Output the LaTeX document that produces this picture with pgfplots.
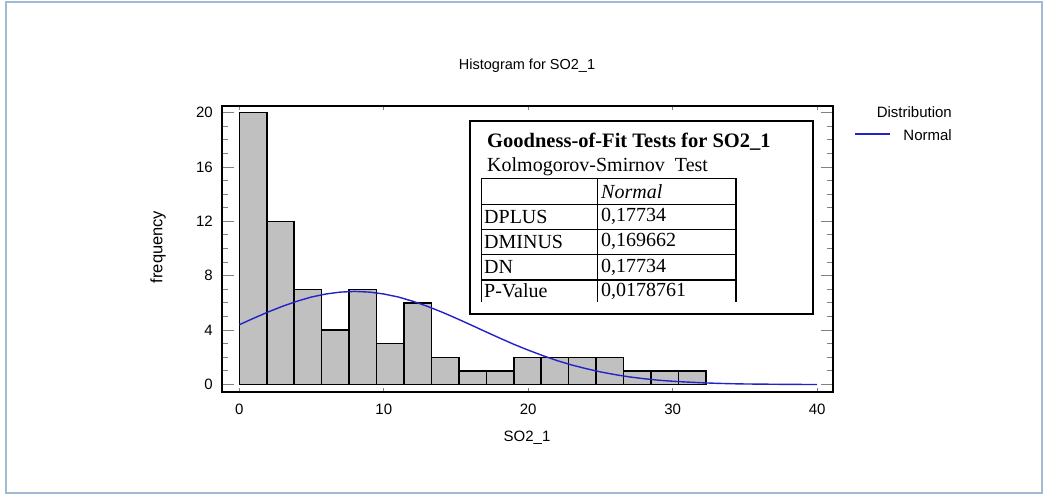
\documentclass[border=0pt]{standalone}
\usepackage{pgfplots}
\pgfplotsset{compat=1.18}
\usepackage{fontspec}
\setmainfont{Liberation Sans}
\newfontfamily\tnr{Liberation Serif}

\definecolor{fitblue}{RGB}{34,34,200}
\definecolor{bargray}{RGB}{192,192,192}
\definecolor{framebl}{RGB}{160,186,214}

% histogram bins (left edge, count); last row closes the interval
\pgfplotstableread{
x    n
0.0  20
1.9  12
3.8  7
5.7  4
7.6  7
9.5  3
11.4 6
13.3 2
15.2 1
17.1 1
19.0 2
20.9 2
22.8 2
24.7 2
26.6 1
28.5 1
30.4 1
32.3 1
}\bins

% fitted normal curve
\pgfplotstableread{
x  y
0  4.40
1  4.88
2  5.34
3  5.76
4  6.13
5  6.44
6  6.66
7  6.80
8  6.85
9  6.80
10 6.66
11 6.44
12 6.13
13 5.76
14 5.34
15 4.88
16 4.40
17 3.91
18 3.43
19 2.96
20 2.53
21 2.13
22 1.76
23 1.44
24 1.17
25 0.93
26 0.73
27 0.56
28 0.43
29 0.32
30 0.24
31 0.18
32 0.13
33 0.09
34 0.06
35 0.04
36 0.03
37 0.02
38 0.01
40 0.00
}\fit

\begin{document}
\begin{tikzpicture}[x=1pt,y=1pt]
\path (0,0) rectangle (1048,495);
\draw[framebl, line width=2pt] (6,2) rectangle (1042,493);

\pgfplotsset{
  base/.style={
    scale only axis, width=611pt, height=286pt,
    at={(222pt,103pt)}, anchor=south west,
    xmin=-1.2, xmax=41.1, ymin=-0.55, ymax=20.49,
    axis line style={line width=1.6pt},
    /pgf/number format/assume math mode=true,
  }
}

\begin{axis}[base,
  xtick={0,10,20,30,40}, ytick={0,4,...,20},
  major tick length=4pt,
  ytick style={draw=none},
  xtick style={line width=1pt},
  tick label style={font=\fontsize{15}{18}\selectfont},
  yticklabel style={inner sep=0pt, anchor=east, xshift=-9pt},
  xticklabel style={inner sep=0pt, anchor=center, yshift=-17pt},
]
\addplot[ybar interval, fill=bargray, draw=black, line width=1.5pt] table[x=x,y=n] {\bins};
\addplot[fitblue, line width=1.4pt, no marks] table[x=x,y=y] {\fit};
\end{axis}

\begin{axis}[base,
  xtick=\empty, ytick={0,4,...,20}, yticklabels={},
  minor y tick num=3,
  major tick length=12pt, minor tick length=6pt,
  ytick style={line width=1pt},
]
\end{axis}

% titles and labels
\node[font=\fontsize{14.5}{17}\selectfont] at (527,429) {Histogram for SO2\_1};
\node[font=\fontsize{15}{18}\selectfont] at (527,57) {SO2\_1};
\node[font=\fontsize{16.5}{19}\selectfont, rotate=90] at (158,248) {frequency};

% legend
\node[font=\fontsize{15}{18}\selectfont, anchor=east, inner sep=0pt] at (952,383) {Distribution};
\draw[fitblue, line width=1.4pt] (855,361) -- (890,361);
\node[font=\fontsize{15}{18}\selectfont, anchor=east, inner sep=0pt] at (952,360) {Normal};

% goodness-of-fit table
\fill[white] (470,374) rectangle (813,181);
\draw[line width=1.5pt] (470,374) rectangle (813,181);
\node[font=\tnr\bfseries\fontsize{20.5}{24}\selectfont, anchor=west, inner sep=0pt] at (487,353) {Goodness-of-Fit Tests for SO2\_1};
\node[font=\tnr\fontsize{20}{24}\selectfont, anchor=west, inner sep=0pt] at (487,328) {Kolmogorov-Smirnov\ \ Test};
\begin{scope}[line width=1.3pt]
\draw (481.7,316.7) -- (736,316.7);
\draw (481.7,290.7) -- (736,290.7);
\draw (481.7,265.7) -- (736,265.7);
\draw (481.7,240.7) -- (736,240.7);
\draw (481.7,215) -- (736,215);
\draw (481.7,316.7) -- (481.7,192.7);
\draw (597.7,316.7) -- (597.7,192.7);
\draw (736,316.7) -- (736,192.7);
\end{scope}
\begin{scope}[every node/.style={font=\tnr\fontsize{20}{24}\selectfont, anchor=west, inner sep=0pt}]
\node at (601,303.7) {\itshape Normal};
\node at (484,278.2) {DPLUS};    \node at (601,278.2) {0,17734};
\node at (484,253.2) {DMINUS};   \node at (601,253.2) {0,169662};
\node at (484,227.8) {DN};       \node at (601,227.8) {0,17734};
\node at (484,204) {P-Value};    \node at (601,204) {0,0178761};
\end{scope}
\end{tikzpicture}
\end{document}
